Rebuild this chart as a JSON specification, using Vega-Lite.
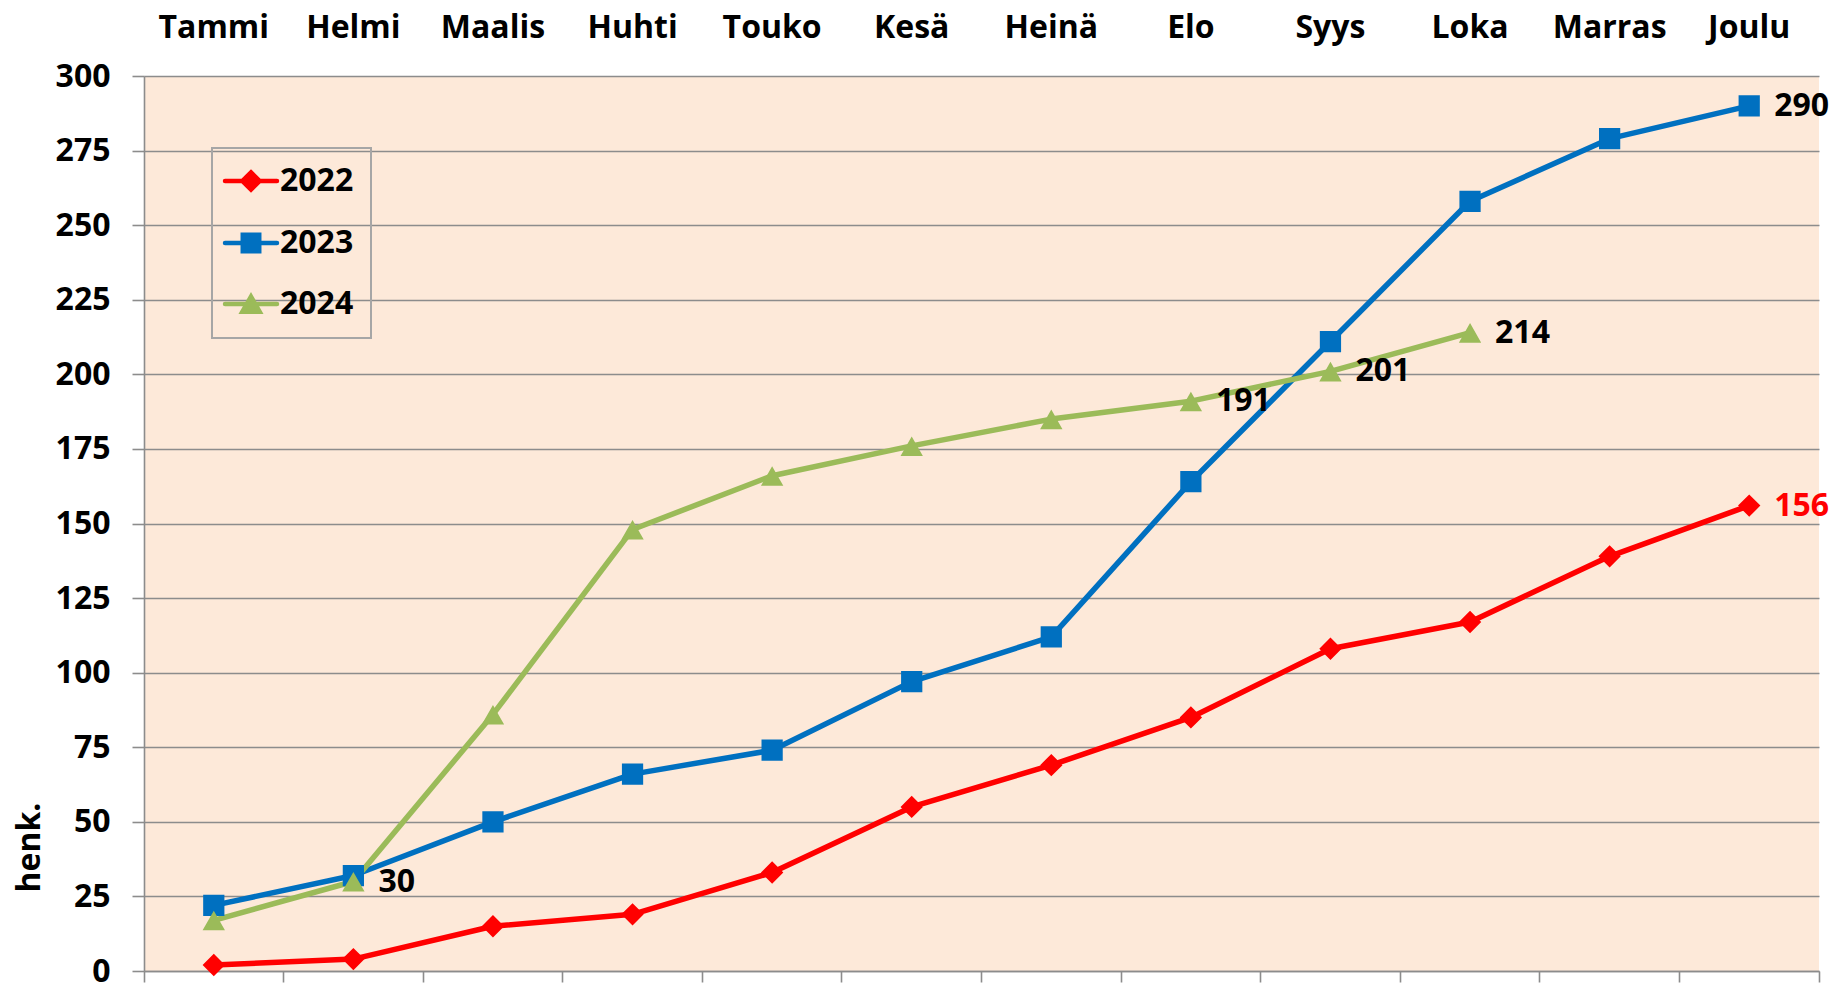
{
  "$schema": "https://vega.github.io/schema/vega-lite/v6.json",
  "width": 1675,
  "height": 895,
  "autosize": {"type": "none"},
  "padding": {"left": 144, "top": 76, "right": 17, "bottom": 13},
  "background": "white",
  "config": {"view": {"fill": "#FDE9D9", "stroke": null}, "font": "Open Sans"},
  "data": {"values": [
    {"month": "Tammi", "year": "2022", "value": 2},
    {"month": "Helmi", "year": "2022", "value": 4},
    {"month": "Maalis", "year": "2022", "value": 15},
    {"month": "Huhti", "year": "2022", "value": 19},
    {"month": "Touko", "year": "2022", "value": 33},
    {"month": "Kesä", "year": "2022", "value": 55},
    {"month": "Heinä", "year": "2022", "value": 69},
    {"month": "Elo", "year": "2022", "value": 85},
    {"month": "Syys", "year": "2022", "value": 108},
    {"month": "Loka", "year": "2022", "value": 117},
    {"month": "Marras", "year": "2022", "value": 139},
    {"month": "Joulu", "year": "2022", "value": 156, "label": true},
    {"month": "Tammi", "year": "2023", "value": 22},
    {"month": "Helmi", "year": "2023", "value": 32},
    {"month": "Maalis", "year": "2023", "value": 50},
    {"month": "Huhti", "year": "2023", "value": 66},
    {"month": "Touko", "year": "2023", "value": 74},
    {"month": "Kesä", "year": "2023", "value": 97},
    {"month": "Heinä", "year": "2023", "value": 112},
    {"month": "Elo", "year": "2023", "value": 164},
    {"month": "Syys", "year": "2023", "value": 211},
    {"month": "Loka", "year": "2023", "value": 258},
    {"month": "Marras", "year": "2023", "value": 279},
    {"month": "Joulu", "year": "2023", "value": 290, "label": true},
    {"month": "Tammi", "year": "2024", "value": 17},
    {"month": "Helmi", "year": "2024", "value": 30, "label": true},
    {"month": "Maalis", "year": "2024", "value": 86},
    {"month": "Huhti", "year": "2024", "value": 148},
    {"month": "Touko", "year": "2024", "value": 166},
    {"month": "Kesä", "year": "2024", "value": 176},
    {"month": "Heinä", "year": "2024", "value": 185},
    {"month": "Elo", "year": "2024", "value": 191, "label": true},
    {"month": "Syys", "year": "2024", "value": 201, "label": true},
    {"month": "Loka", "year": "2024", "value": 214, "label": true}
  ]},
  "resolve": {"axis": {"x": "independent"}},
  "layer": [
    {
      "mark": {"type": "line", "strokeWidth": 5.5, "strokeJoin": "round", "strokeCap": "round"},
      "encoding": {
        "x": {
          "field": "month", "type": "nominal",
          "sort": ["Tammi","Helmi","Maalis","Huhti","Touko","Kesä","Heinä","Elo","Syys","Loka","Marras","Joulu"],
          "scale": {"type": "band", "paddingInner": 0, "paddingOuter": 0, "domain": ["Tammi","Helmi","Maalis","Huhti","Touko","Kesä","Heinä","Elo","Syys","Loka","Marras","Joulu"]},
          "axis": {
            "orient": "top", "title": null, "domain": false, "ticks": false, "tickSize": 0, "grid": false,
            "labelAngle": 0, "labelFont": "Open Sans", "labelFontSize": 32, "labelFontWeight": "bold",
            "labelColor": "#000000", "labelPadding": 32
          }
        },
        "y": {
          "field": "value", "type": "quantitative",
          "scale": {"domain": [0, 300], "nice": false, "zero": true},
          "axis": {
            "values": [0, 25, 50, 75, 100, 125, 150, 175, 200, 225, 250, 275, 300],
            "grid": true, "gridColor": "#8C8C8C", "gridWidth": 1.6,
            "domain": true, "domainColor": "#8C8C8C", "domainWidth": 1.6,
            "ticks": true, "tickColor": "#8C8C8C", "tickWidth": 1.6, "tickSize": 12,
            "labelFont": "Open Sans", "labelFontSize": 32, "labelFontWeight": "bold",
            "labelColor": "#000000", "labelPadding": 22,
            "title": "henk.", "titleFont": "Open Sans", "titleFontSize": 32, "titleFontWeight": "bold",
            "titleColor": "#000000", "titleAngle": -90, "titleX": -115, "titleY": 771,
            "titleAlign": "center", "titleBaseline": "middle"
          }
        },
        "color": {
          "field": "year", "type": "nominal",
          "scale": {"domain": ["2022", "2023", "2024"], "range": ["#FF0000", "#0070C0", "#9BBB59"]},
          "legend": {
            "title": null, "orient": "none", "legendX": 68, "legendY": 72, "direction": "vertical",
            "strokeColor": "#A6A6A6", "padding": 17, "symbolSize": 300, "symbolOffset": 6,
            "labelOffset": 13, "labelFont": "Open Sans", "labelFontSize": 32, "labelFontWeight": "bold",
            "labelColor": "#000000", "rowPadding": 26,
            "encode": {
              "legend": {"update": {"strokeWidth": {"value": 2}}},
              "symbols": {"update": {
                "stroke": {"scale": "color", "field": "value"},
                "fill": {"scale": "color", "field": "value"},
                "strokeWidth": {"value": 4.5},
                "strokeCap": {"value": "round"},
                "opacity": {"value": 1}
              }}
            }
          }
        }
      }
    },
    {
      "mark": {"type": "point", "filled": true, "size": 500, "opacity": 1, "strokeWidth": 0},
      "encoding": {
        "x": {
          "field": "month", "type": "nominal",
          "sort": ["Tammi","Helmi","Maalis","Huhti","Touko","Kesä","Heinä","Elo","Syys","Loka","Marras","Joulu"],
          "axis": {
            "orient": "bottom", "title": null, "labels": false, "grid": false,
            "domain": true, "domainColor": "#8C8C8C", "domainWidth": 1.6,
            "ticks": true, "tickColor": "#8C8C8C", "tickWidth": 1.6, "tickSize": 11,
            "bandPosition": 1, "tickExtra": true
          }
        },
        "y": {"field": "value", "type": "quantitative"},
        "color": {
          "field": "year", "type": "nominal",
          "legend": {
            "title": null, "orient": "none", "legendX": 68, "legendY": 72, "direction": "vertical",
            "strokeColor": "#A6A6A6", "padding": 17, "symbolSize": 300, "symbolOffset": 6,
            "labelOffset": 13, "labelFont": "Open Sans", "labelFontSize": 32, "labelFontWeight": "bold",
            "labelColor": "#000000", "rowPadding": 26,
            "encode": {
              "legend": {"update": {"strokeWidth": {"value": 2}}},
              "symbols": {"update": {
                "stroke": {"scale": "color", "field": "value"},
                "fill": {"scale": "color", "field": "value"},
                "strokeWidth": {"value": 4.5},
                "strokeCap": {"value": "round"},
                "opacity": {"value": 1}
              }}
            }
          }
        },
        "shape": {
          "field": "year", "type": "nominal",
          "scale": {
            "domain": ["2022", "2023", "2024"],
            "range": [
              "M0,-1L1,0L0,1L-1,0ZM-3,0H3",
              "M-0.95,-0.95H0.95V0.95H-0.95ZM-3,0H3",
              "M0,-0.85L1,0.9H-1ZM-3,0H3"
            ]
          },
          "legend": {
            "title": null, "orient": "none", "legendX": 68, "legendY": 72, "direction": "vertical",
            "strokeColor": "#A6A6A6", "padding": 17, "symbolSize": 300, "symbolOffset": 6,
            "labelOffset": 13, "labelFont": "Open Sans", "labelFontSize": 32, "labelFontWeight": "bold",
            "labelColor": "#000000", "rowPadding": 26,
            "encode": {
              "legend": {"update": {"strokeWidth": {"value": 2}}},
              "symbols": {"update": {
                "stroke": {"scale": "color", "field": "value"},
                "fill": {"scale": "color", "field": "value"},
                "strokeWidth": {"value": 4.5},
                "strokeCap": {"value": "round"},
                "opacity": {"value": 1}
              }}
            }
          }
        }
      }
    },
    {
      "transform": [{"filter": "datum.label === true"}],
      "mark": {"type": "text", "align": "left", "baseline": "middle", "dx": 25, "font": "Open Sans", "fontSize": 32, "fontWeight": "bold"},
      "encoding": {
        "x": {
          "field": "month", "type": "nominal",
          "sort": ["Tammi","Helmi","Maalis","Huhti","Touko","Kesä","Heinä","Elo","Syys","Loka","Marras","Joulu"],
          "axis": null
        },
        "y": {"field": "value", "type": "quantitative"},
        "text": {"field": "value", "type": "quantitative"},
        "color": {"condition": {"test": "datum.year === '2022'", "value": "#FF0000"}, "value": "#000000"}
      }
    }
  ]
}
